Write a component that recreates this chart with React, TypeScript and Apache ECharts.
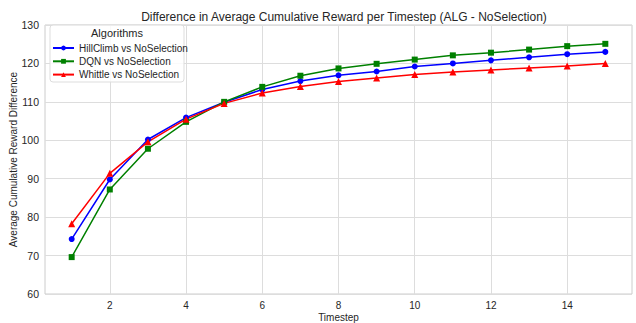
import React, { useEffect, useRef } from "react";
import * as echarts from "echarts";

const timesteps = [1, 2, 3, 4, 5, 6, 7, 8, 9, 10, 11, 12, 13, 14, 15];
const hillClimb = [74.3, 89.8, 100.2, 105.9, 109.9, 113.2, 115.4, 116.9, 117.9, 119.2, 120.0, 120.8, 121.6, 122.4, 123.0];
const dqn = [69.6, 87.2, 97.8, 104.8, 110.0, 113.9, 116.8, 118.7, 119.9, 121.0, 122.1, 122.8, 123.6, 124.5, 125.1];
const whittle = [78.3, 91.4, 99.6, 105.5, 109.6, 112.3, 114.0, 115.3, 116.2, 117.1, 117.8, 118.3, 118.8, 119.3, 120.0];
const xTicks = [2, 4, 6, 8, 10, 12, 14];
const seriesNames = ["HillClimb vs NoSelection", "DQN vs NoSelection", "Whittle vs NoSelection"];
const seriesColors = ["#0000ff", "#008000", "#ff0000"];
const seriesSymbols = ["circle", "rect", "triangle"];
const seriesData = [hillClimb, dqn, whittle];

const FONT = "'Liberation Sans', Arial, sans-serif";

export default function App() {
  const ref = useRef<HTMLDivElement>(null);
  useEffect(() => {
    if (!ref.current) return;
    const chart = echarts.init(ref.current, undefined, { renderer: "svg" });
    chart.setOption({
      animation: false,
      backgroundColor: "#ffffff",
      textStyle: { fontFamily: FONT },
      title: {
        text: "Difference in Average Cumulative Reward per Timestep (ALG - NoSelection)",
        left: 339,
        textAlign: "center",
        top: 6,
        textStyle: { fontFamily: FONT, fontSize: 12, fontWeight: "normal", color: "#262626" },
      },
      grid: {
        left: 45,
        right: 4,
        top: 25,
        bottom: 29,
        outerBoundsMode: "none",
        containLabel: false,
        show: true,
        borderColor: "#cccccc",
        borderWidth: 1,
      },
      xAxis: {
        type: "value",
        min: 0.3,
        max: 15.7,
        name: "Timestep",
        nameLocation: "middle",
        nameGap: 18,
        nameMoveOverlap: false,
        nameTextStyle: { fontFamily: FONT, fontSize: 10, color: "#262626" },
        axisLine: { show: false },
        axisTick: { show: false, customValues: xTicks },
        axisLabel: { customValues: xTicks, fontFamily: FONT, fontSize: 10, color: "#262626", margin: 6 },
        splitLine: { show: true, lineStyle: { color: "#dddddd", width: 1 } },
      },
      yAxis: {
        type: "value",
        min: 60,
        max: 130,
        interval: 10,
        name: "Average Cumulative Reward Difference",
        nameLocation: "middle",
        nameGap: 27,
        nameMoveOverlap: false,
        nameTextStyle: { fontFamily: FONT, fontSize: 10, color: "#262626" },
        axisLine: { show: false },
        axisTick: { show: false },
        axisLabel: { fontFamily: FONT, fontSize: 10.5, color: "#262626", margin: 6 },
        splitLine: { show: true, lineStyle: { color: "#dddddd", width: 1 } },
      },
      legend: {
        orient: "vertical",
        left: 47,
        top: 38,
        itemWidth: 21,
        itemHeight: 6,
        itemGap: 3.3,
        z: 10,
        data: seriesNames,
        textStyle: { fontFamily: FONT, fontSize: 10, color: "#262626", lineHeight: 10 },
      },
      graphic: [
        {
          type: "rect",
          z: 5,
          shape: { x: 50, y: 25, width: 134, height: 57, r: 3 },
          style: { fill: "rgba(255,255,255,0.85)", stroke: "#dddddd", lineWidth: 1 },
        },
        {
          type: "text",
          z: 11,
          x: 117,
          y: 27,
          style: { text: "Algorithms", fontFamily: FONT, fontSize: 11, fill: "#262626", textAlign: "center" },
        },
      ],
      series: seriesNames.map((name, i) => ({
        name,
        type: "line",
        data: timesteps.map((t, j) => [t, seriesData[i][j]]),
        symbol: seriesSymbols[i],
        symbolSize: i === 2 ? 7 : 6,
        showSymbol: true,
        lineStyle: { color: seriesColors[i], width: 1.5 },
        itemStyle: { color: seriesColors[i] },
        z: 2,
      })),
    });
    return () => chart.dispose();
  }, []);
  return <div ref={ref} style={{ width: 636, height: 323, position: "absolute", left: 0, top: 0 }} />;
}
